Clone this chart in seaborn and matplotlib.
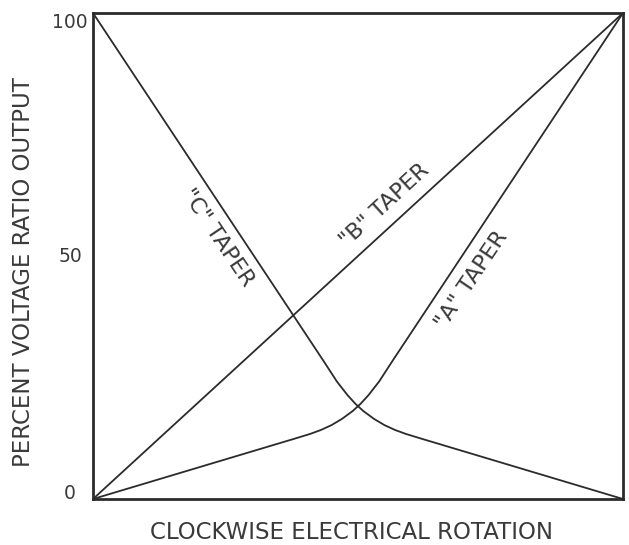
import matplotlib
matplotlib.use("Agg")
import matplotlib.pyplot as plt
import seaborn as sns

# --- DATI ---
rotation_a = [0, 38, 41, 43, 45, 47, 49, 50.5, 52, 54, 56.5, 100]
output_a = [0, 12.4, 13.4, 14.2, 15.2, 16.5, 18.1, 19.6, 21.4, 24.2, 28.4, 100]

rotation_b = [0, 100]
output_b = [0, 100]

rotation_c = [0, 43.5, 46, 48, 49.5, 51, 53, 55, 57, 59, 62, 100]
output_c = [100, 28.4, 24.2, 21.4, 19.6, 18.1, 16.5, 15.2, 14.2, 13.4, 12.4, 0]

y_ticks = [0, 50, 100]
taper_labels = ['"A" TAPER', '"B" TAPER', '"C" TAPER']

# --- STILE ---
sns.set_theme(style="white")
plt.rcParams['font.family'] = ['DejaVu Sans']
INK = '#2b2b2b'
TXT = '#3a3a3a'

fig = plt.figure(figsize=(6.29, 5.45), dpi=100)
ax = fig.add_axes([93 / 629, 1 - 499 / 545, 530 / 629, 486 / 545])

sns.lineplot(x=rotation_a, y=output_a, ax=ax, color=INK, linewidth=1.3, sort=False)
sns.lineplot(x=rotation_b, y=output_b, ax=ax, color=INK, linewidth=1.3, sort=False)
sns.lineplot(x=rotation_c, y=output_c, ax=ax, color=INK, linewidth=1.3, sort=False)

ax.set_xlim(0, 100)
ax.set_ylim(0, 100)
ax.set_xticks([])
ax.set_yticks(y_ticks)
ax.set_yticklabels([str(t) for t in y_ticks], fontsize=13.5, color=TXT)
ax.tick_params(axis='y', length=0, pad=16.5)
for lab, va in zip(ax.get_yticklabels(), ['baseline', 'center', 'top']):
    lab.set_horizontalalignment('center')
    lab.set_verticalalignment(va)

for s in ax.spines.values():
    s.set_color(INK)
    s.set_linewidth(2.0)

ax.set_xlabel('CLOCKWISE ELECTRICAL ROTATION', fontsize=16.5, color=TXT, labelpad=12)
ax.set_ylabel('PERCENT VOLTAGE RATIO OUTPUT', fontsize=16.5, color=TXT)
ax.xaxis.set_label_coords(0.487, -0.045)
ax.yaxis.set_label_coords(-0.11, 0.467)

# etichette delle curve
ax.text(71.5, 45.1, taper_labels[0], rotation=56, fontsize=16, color=TXT,
        ha='center', va='center', rotation_mode='anchor')
ax.text(55.1, 60.5, taper_labels[1], rotation=42.5, fontsize=16, color=TXT,
        ha='center', va='center', rotation_mode='anchor')
ax.text(23.6, 53.7, taper_labels[2], rotation=-56, fontsize=16, color=TXT,
        ha='center', va='center', rotation_mode='anchor')

fig.savefig('out.png', dpi=100)
